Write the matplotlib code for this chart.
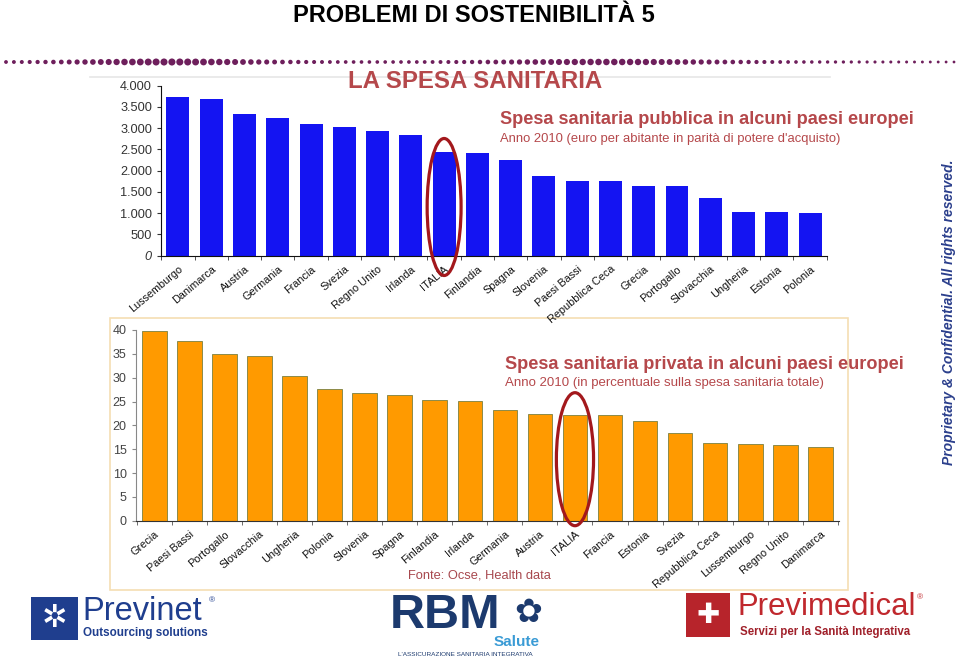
import numpy as np
import matplotlib
matplotlib.use("Agg")
import matplotlib.pyplot as plt
from matplotlib.patches import Ellipse, Rectangle
from matplotlib.ticker import FuncFormatter

# ---------------- data ----------------
pub_countries = ["Lussemburgo", "Danimarca", "Austria", "Germania", "Francia", "Svezia",
                 "Regno Unito", "Irlanda", "ITALIA", "Finlandia", "Spagna", "Slovenia",
                 "Paesi Bassi", "Repubblica Ceca", "Grecia", "Portogallo", "Slovacchia",
                 "Ungheria", "Estonia", "Polonia"]
pub_values = [3740, 3690, 3330, 3235, 3090, 3020, 2925, 2835, 2435, 2410, 2250, 1880,
              1765, 1765, 1640, 1630, 1365, 1035, 1035, 1000]
pub_yticks = [0, 500, 1000, 1500, 2000, 2500, 3000, 3500, 4000]

priv_countries = ["Grecia", "Paesi Bassi", "Portogallo", "Slovacchia", "Ungheria", "Polonia",
                  "Slovenia", "Spagna", "Finlandia", "Irlanda", "Germania", "Austria",
                  "ITALIA", "Francia", "Estonia", "Svezia", "Repubblica Ceca",
                  "Lussemburgo", "Regno Unito", "Danimarca"]
priv_values = [39.8, 37.7, 35.0, 34.5, 30.4, 27.7, 26.8, 26.4, 25.4, 25.1, 23.2, 22.4,
               22.2, 22.2, 20.9, 18.5, 16.2, 16.1, 15.9, 15.5]
priv_yticks = [0, 5, 10, 15, 20, 25, 30, 35, 40]

W, H = 960, 663
fig = plt.figure(figsize=(W / 100, H / 100), dpi=100)
fig.patch.set_facecolor("white")


def fx(x):
    return x / W


def fy(y):
    return 1 - y / H


def rect(x0, y0, x1, y1):
    return [fx(x0), fy(y1), fx(x1) - fx(x0), fy(y0) - fy(y1)]


RED = "#B5484B"
FONT = "Liberation Sans"

# background decoration axes in pixel coordinates
bg = fig.add_axes([0, 0, 1, 1])
bg.set_xlim(0, W)
bg.set_ylim(H, 0)
bg.axis("off")
bg.set_zorder(0)

# decorative dotted band
dx = np.arange(6, 956, 7.9)
env = (1.0 + 3.0 * np.exp(-((dx - 170) / 95) ** 2) + 2.4 * np.exp(-((dx - 610) / 110) ** 2)
       - 0.4 * np.clip((dx - 760) / 200, 0, 1))
bg.scatter(dx, np.full_like(dx, 62.0), s=6.5 * env, c="#6E1F5C", marker="o", linewidths=0)

# boxes around charts
bg.plot([90, 830], [77, 77], color="#E6E6E6", lw=1.2)
bg.add_patch(Rectangle((110, 318), 738, 272, fill=False, ec="#F5DEB3", lw=1.2))

# logo blocks
bg.add_patch(Rectangle((31, 597), 47, 43, fc="#1F3E8E", ec="none"))
bg.add_patch(Rectangle((686, 593), 44, 44, fc="#B7242B", ec="none"))

# ---------------- header ----------------
fig.text(fx(474), fy(15), "PROBLEMI DI SOSTENIBILITÀ 5", ha="center", va="center",
         fontsize=17, fontweight="bold", family=["Liberation Sans Narrow", FONT],
         color="black")

# ---------------- top chart ----------------
ax1 = fig.add_axes(rect(161, 85.7, 826.7, 255.7))
ax1.set_zorder(2)
x1 = np.arange(len(pub_countries))
ax1.bar(x1, pub_values, width=0.69, color="#1414F2", zorder=2)
ax1.set_xlim(-0.51, 19.48)
ax1.set_ylim(0, 4000)
ax1.set_yticks(pub_yticks)
ax1.yaxis.set_major_formatter(FuncFormatter(lambda v, p: f"{int(v):,}".replace(",", ".")))
ax1.set_xticks(x1)
ax1.set_xticklabels(pub_countries, rotation=40, ha="right", va="top", rotation_mode="anchor",
                    fontsize=7.8, family=FONT, color="#111111")
ax1.set_xticks(np.arange(-0.5, len(pub_countries), 1), minor=True)
ax1.tick_params(axis="x", which="major", length=0, pad=6)
ax1.tick_params(axis="x", which="minor", length=3, color="#333333")
ax1.tick_params(axis="y", length=3, labelsize=9.2, labelcolor="#333333", color="#333333")
for lab in ax1.get_yticklabels():
    lab.set_family(FONT)
ax1.get_yticklabels()[0].set_style("italic")
for s in ["top", "right"]:
    ax1.spines[s].set_visible(False)
ax1.spines["left"].set_color("#111111")
ax1.spines["bottom"].set_color("#111111")
ax1.patch.set_alpha(0)
i_it = pub_countries.index("ITALIA")
ax1.add_patch(Ellipse((i_it, 1146), 1.02, 3224, fill=False, ec="#A3181C", lw=2.3,
                      clip_on=False, zorder=5))

# ---------------- bottom chart ----------------
ax2 = fig.add_axes(rect(135.7, 330, 839.3, 520.7))
ax2.set_zorder(2)
x2 = np.arange(len(priv_countries))
ax2.bar(x2, priv_values, width=0.7, color="#FF9A00", edgecolor="#7A8040", lw=0.6, zorder=2)
ax2.set_xlim(-0.53, 19.54)
ax2.set_ylim(0, 40)
ax2.set_yticks(priv_yticks)
ax2.set_xticks(x2)
ax2.set_xticklabels(priv_countries, rotation=40, ha="right", va="top", rotation_mode="anchor",
                    fontsize=7.8, family=FONT, color="#111111")
ax2.set_xticks(np.arange(-0.5, len(priv_countries), 1), minor=True)
ax2.tick_params(axis="x", which="major", length=0, pad=6)
ax2.tick_params(axis="x", which="minor", length=3, color="#555555")
ax2.tick_params(axis="y", length=3, labelsize=9, labelcolor="#444444", color="#888888")
for lab in ax2.get_yticklabels():
    lab.set_family(FONT)
for s in ["top", "right"]:
    ax2.spines[s].set_visible(False)
ax2.spines["left"].set_color("#888888")
ax2.spines["bottom"].set_color("#333333")
ax2.patch.set_alpha(0)
i_it2 = priv_countries.index("ITALIA")
ax2.add_patch(Ellipse((i_it2, 12.9), 1.06, 27.9, fill=False, ec="#A3181C", lw=2.3,
                      clip_on=False, zorder=5))

# ---------------- titles ----------------
fig.text(fx(348), fy(81), "LA SPESA SANITARIA", ha="left", va="center", fontsize=17.3,
         fontweight="bold", family=FONT, color=RED)
fig.text(fx(500), fy(120), "Spesa sanitaria pubblica in alcuni paesi europei", ha="left",
         va="center", fontsize=13.1, fontweight="bold", family=FONT, color=RED)
fig.text(fx(500), fy(139), "Anno 2010 (euro per abitante in parità di potere d'acquisto)",
         ha="left", va="center", fontsize=9.4, family=FONT, color=RED)
fig.text(fx(505), fy(364), "Spesa sanitaria privata in alcuni paesi europei", ha="left",
         va="center", fontsize=13.1, fontweight="bold", family=FONT, color=RED)
fig.text(fx(505), fy(383), "Anno 2010 (in percentuale sulla spesa sanitaria totale)",
         ha="left", va="center", fontsize=9.5, family=FONT, color=RED)
fig.text(fx(408), fy(576), "Fonte: Ocse, Health data", ha="left", va="center", fontsize=9.3,
         family=FONT, color="#A8484E")

fig.text(fx(949), fy(312), "Proprietary & Confidential. All rights reserved.", rotation=90,
         ha="center", va="center", fontsize=10, fontweight="bold", style="italic",
         family=FONT, color="#2B3F8C")

# ---------------- logos (as text) ----------------
fig.text(fx(54.5), fy(618.5), "✲", ha="center", va="center", fontsize=22, color="white",
         family="DejaVu Sans")
fig.text(fx(82), fy(612), "Previnet", ha="left", va="center", fontsize=23.5, family=FONT,
         color="#1F3E8E")
fig.text(fx(209), fy(601), "®", ha="left", va="center", fontsize=6, family=FONT, color="#1F3E8E")
fig.text(fx(83), fy(633), "Outsourcing solutions", ha="left", va="center", fontsize=8.4,
         fontweight="bold", family=FONT, color="#1F3E8E")

fig.text(fx(390), fy(616), "RBM", ha="left", va="center", fontsize=35, fontweight="bold",
         family=FONT, color="#1C3A6E")
fig.text(fx(528), fy(612), "✿", ha="center", va="center", fontsize=24, family="DejaVu Sans",
         color="#1C3A6E")
fig.text(fx(540), fy(642), "Salute", ha="right", va="center", fontsize=11, fontweight="bold",
         family=FONT, color="#3A9BD5")
fig.text(fx(465), fy(655), "L'ASSICURAZIONE SANITARIA INTEGRATIVA", ha="center", va="center",
         fontsize=4.6, family=FONT, color="#1C3A6E")

fig.text(fx(708), fy(615), "✚", ha="center", va="center", fontsize=20, color="white",
         family="DejaVu Sans")
fig.text(fx(737), fy(607), "Previmedical", ha="left", va="center", fontsize=22.4,
         family=FONT, color="#C0282D")
fig.text(fx(917), fy(598), "®", ha="left", va="center", fontsize=6, family=FONT, color="#C0282D")
fig.text(fx(740), fy(632), "Servizi per la Sanità Integrativa", ha="left", va="center",
         fontsize=8.3, fontweight="bold", family=FONT, color="#A0202A")

fig.savefig("out.png", dpi=100, facecolor="white")
